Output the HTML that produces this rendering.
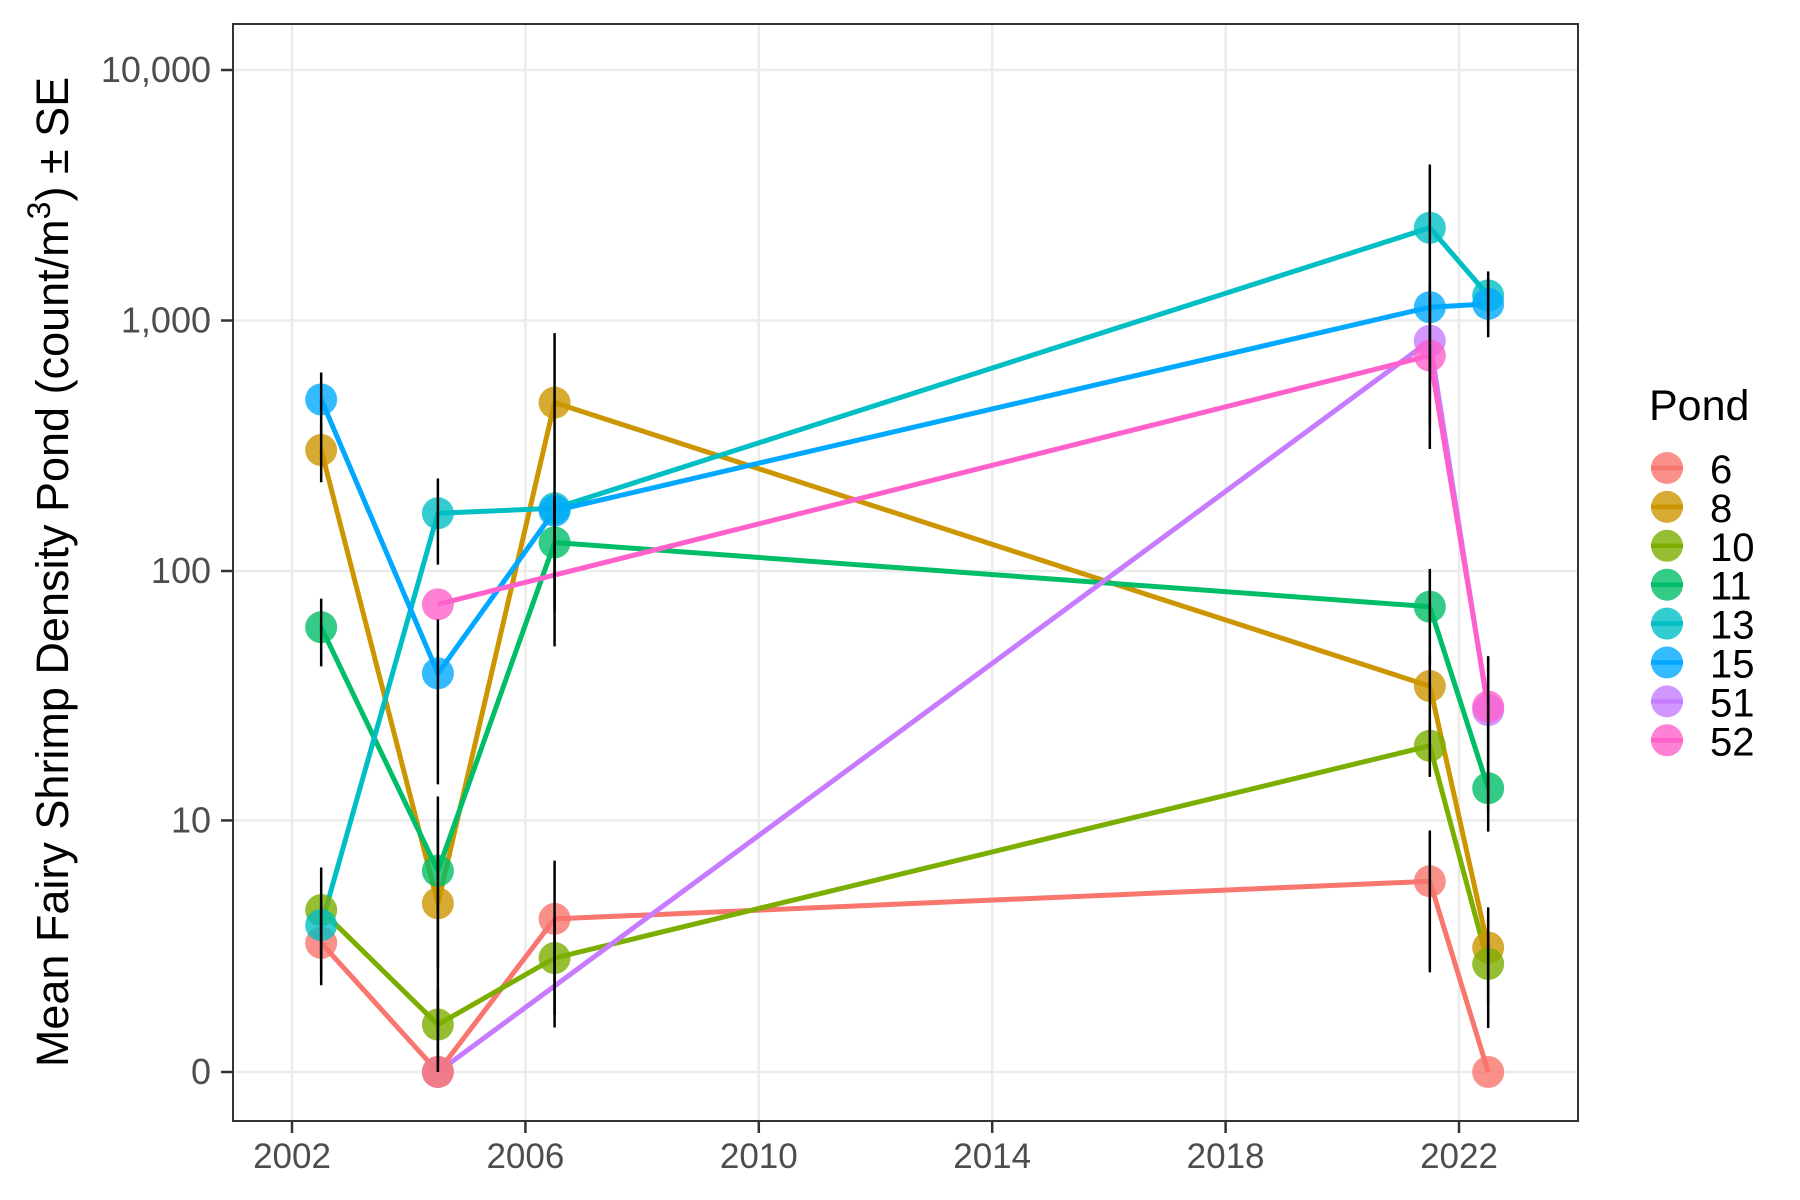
<!DOCTYPE html>
<html><head><meta charset="utf-8"><style>
html,body{margin:0;padding:0;background:#fff;}
svg{display:block;font-family:"Liberation Sans",Arial,sans-serif;}
</style></head><body>
<svg id="chart" width="1800" height="1200" viewBox="0 0 1800 1200">
<rect x="0" y="0" width="1800" height="1200" fill="#fff"/>
<g id="grid"></g>
<g id="lines"></g>
<g id="points"></g>
<g id="errs"></g>
<rect x="233" y="24" width="1345" height="1097" fill="none" stroke="#333" stroke-width="2"/>
<g id="axes"></g>
<text transform="translate(68,572) rotate(-90)" text-anchor="middle" font-size="45" fill="#000">Mean Fairy Shrimp Density Pond (count/m<tspan dy="-18" font-size="32">3</tspan><tspan dy="18">) ± SE</tspan></text>
<g id="legend">
<text x="1649" y="420" font-size="43" fill="#000">Pond</text>
</g>
</svg>
<script>
const ponds = ['6','8','10','11','13','15','51','52'];
const colors = ['#F8766D','#CD9600','#7CAE00','#00BE67','#00BFC4','#00A9FF','#C77CFF','#FF61CC'];
const years = [2002.5,2004.5,2006.5,2021.5,2022.5];
const v6  = [2.97,0,3.84,5.6,0];
const v8  = [304,4.5,470,34.7,2.82];
const v10 = [4.2,0.9,2.5,20,2.33];
const v11 = [59.6,6.2,130,72,13.5];
const v13 = [3.6,170,178,2344,1259];
const v15 = [484,39,174,1130,1165];
const v51 = [null,0,null,830,27.8];
const v52 = [null,73.6,null,724,28.7];
const se6  = [1.2,0,3,3.5,0];
const se8  = [78,8,420,12,1.5];
const se10 = [2.2,0.8,1.4,5,1.5];
const se11 = [18,4,61,30,4.5];
const se13 = [1,64,20,1850,311];
const se15 = [136,25,20,300,308];
const se51 = [null,0,null,450,17];
const se52 = [null,0,null,417,17];
const xTicks = [2002,2006,2010,2014,2018,2022];
const yTicks = [0,10,100,1000,10000];
const yTickLabels = ['0','10','100','1,000','10,000'];

const vals = [v6,v8,v10,v11,v13,v15,v51,v52];
const ses = [se6,se8,se10,se11,se13,se15,se51,se52];
const NS='http://www.w3.org/2000/svg';
function X(yr){return 292+(yr-2002)*58.35;}
function Y(v){return 1072-250.5*Math.asinh(v/2)/Math.LN10;}
function mk(tag,attrs,parent){const e=document.createElementNS(NS,tag);for(const k in attrs)e.setAttribute(k,attrs[k]);parent.appendChild(e);return e;}
const grid=document.getElementById('grid'),axes=document.getElementById('axes');
xTicks.forEach(t=>{
  const l=mk('line',{x1:X(t),x2:X(t),y1:24,y2:1121,stroke:'#EBEBEB','stroke-width':2.5},grid);
  
  
  const tk=mk('line',{x1:X(t),x2:X(t),y1:1121,y2:1133,stroke:'#333','stroke-width':2.5},axes);
  
  
  const tx=mk('text',{x:X(t),y:1168,'text-anchor':'middle','font-size':35,fill:'#4D4D4D'},axes);
  tx.textContent=t;
  
  
});
yTicks.forEach((t,i)=>{
  const l=mk('line',{x1:233,x2:1578,y1:Y(t),y2:Y(t),stroke:'#EBEBEB','stroke-width':2.5},grid);
  
  
  const tk=mk('line',{x1:221,x2:233,y1:Y(t),y2:Y(t),stroke:'#333','stroke-width':2.5},axes);
  
  
  const tx=mk('text',{x:211,y:Y(t)+12,'text-anchor':'end','font-size':36,fill:'#4D4D4D'},axes);
  tx.textContent=yTickLabels[i];
  
  
});
const gL=document.getElementById('lines'),gP=document.getElementById('points'),gE=document.getElementById('errs');
vals.forEach((arr,s)=>{
  const pts=[];
  arr.forEach((v,i)=>{if(v!==null)pts.push(X(years[i]).toFixed(1)+','+Y(v).toFixed(1));});
  const pl=mk('polyline',{points:pts.join(' '),fill:'none',stroke:colors[s],'stroke-width':5,'stroke-linejoin':'round'},gL);
  
  
});
const order=[6,0,1,2,3,4,5,7];
order.forEach(s=>{
  vals[s].forEach((v,i)=>{
    if(v===null)return;
    const c=mk('circle',{cx:X(years[i]),cy:Y(v),r:16,fill:colors[s],'fill-opacity':0.8},gP);
    
    
    const se=ses[s][i];
    if(se>0){
      const e=mk('line',{x1:X(years[i]),x2:X(years[i]),y1:Y(Math.max(0,v-se)),y2:Y(v+se),stroke:'#000','stroke-width':2.5},gE);
      
      
    }
  });
});
const lg=document.getElementById('legend');
ponds.forEach((p,i)=>{
  const y=468+i*38.9;
  const c=mk('circle',{cx:1667,cy:y,r:16,fill:colors[i],'fill-opacity':0.8},lg);
  
  
  const l=mk('line',{x1:1651,x2:1683,y1:y,y2:y,stroke:colors[i],'stroke-width':4.5},lg);
  
  
  const t=mk('text',{x:1710,y:y+15,'font-size':40,fill:'#000'},lg);
  t.textContent=p;
  
  
});
</script>
</body></html>
